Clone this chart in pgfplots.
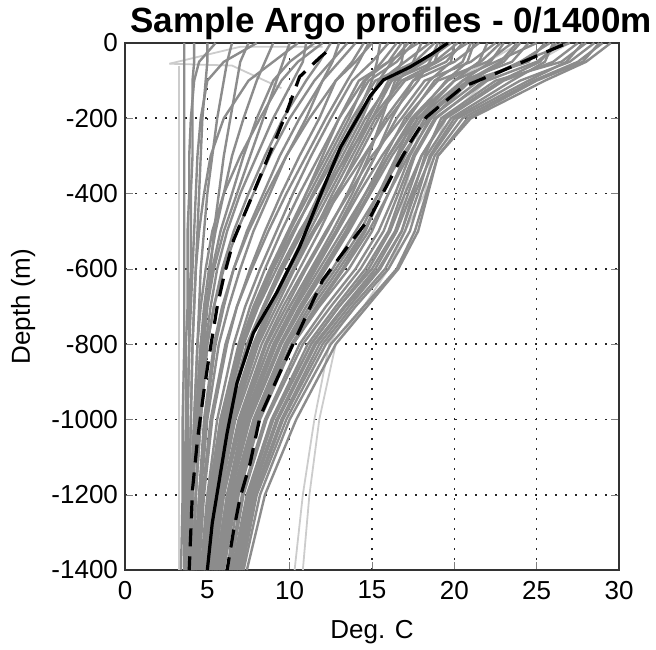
\documentclass[border=0pt]{standalone}
\usepackage{fontspec}
\setmainfont{Liberation Sans}
\usepackage{pgfplots}
\usepackage{pgfplotstable}
\pgfplotsset{compat=1.18}

\definecolor{profgray}{gray}{0.55}
\definecolor{lightprof}{gray}{0.8}

% one row per float profile, temperature (deg C) at each depth (m)
\pgfplotstableread{
name 0 -50 -100 -200 -300 -400 -500 -600 -700 -800 -1000 -1200 -1400
c1 3.6 3.6 3.6 3.6 3.6 3.6 3.6 3.6 3.6 3.6 3.5 3.5 3.4
c2 5.5 4.5 4.2 4.0 3.9 3.9 3.8 3.8 3.8 3.7 3.7 3.6 3.6
c3 8.0 6.0 5.0 4.6 4.4 4.3 4.2 4.1 4.0 3.9 3.8 3.7 3.7
c4 10.5 9.0 7.5 6.0 5.2 4.8 4.5 4.3 4.2 4.1 4.0 3.9 3.8
c5 12.0 10.5 9.5 8.2 7.0 6.0 5.3 4.9 4.6 4.4 4.2 4.0 3.9
c6 6.5 6.2 6.0 5.6 5.3 5.0 4.8 4.6 4.5 4.4 4.2 4.0 3.9
c7 9.0 8.5 8.0 7.2 6.5 6.0 5.5 5.1 4.8 4.6 4.3 4.1 4.0
c8 11.0 10.8 10.2 9.0 8.0 7.0 6.2 5.6 5.2 4.9 4.5 4.3 4.1
c9 4.2 4.2 4.1 4.1 4.1 4.0 4.0 4.0 3.9 3.9 3.8 3.8 3.7
c10 13.5 12.5 11.5 10.0 8.8 7.8 6.8 6.0 5.4 5.0 4.6 4.3 4.1
c11 7.5 7.0 6.8 6.4 6.0 5.7 5.4 5.2 5.0 4.8 4.5 4.3 4.2
c12 14.5 13.8 12.8 11.2 9.8 8.6 7.5 6.6 5.9 5.4 4.8 4.5 4.3
c13 10.0 9.6 9.2 8.4 7.6 6.8 6.0 5.4 5.0 4.7 4.4 4.1 4.0
c14 5.0 5.0 4.9 4.7 4.6 4.5 4.4 4.3 4.2 4.1 4.0 3.9 3.8
m1 16.0 15.0 13.8 12.5 11.3 10.2 9.2 8.2 7.3 6.6 5.6 5.0 4.6
m2 17.5 16.5 14.8 13.4 12.2 11.0 9.9 8.8 7.8 7.0 5.9 5.2 4.8
m3 18.5 17.0 15.5 14.2 13.0 11.8 10.7 9.5 8.4 7.4 6.1 5.4 4.9
m4 19.5 18.0 16.0 14.8 13.6 12.4 11.2 10.0 8.9 7.9 6.4 5.6 5.1
m5 20.5 19.5 17.0 15.2 14.0 12.9 11.8 10.6 9.4 8.3 6.7 5.8 5.2
m6 21.5 20.0 17.5 15.8 14.6 13.5 12.3 11.0 9.8 8.6 7.0 6.0 5.4
m7 19.0 18.5 17.8 16.0 14.5 13.0 11.5 10.2 9.0 8.0 6.5 5.6 5.0
m8 17.0 16.8 16.2 15.0 13.5 12.0 10.6 9.4 8.4 7.5 6.2 5.4 4.9
m9 22.5 21.0 18.2 16.5 15.2 14.0 12.8 11.5 10.2 9.0 7.2 6.2 5.5
m10 15.5 15.3 15.0 14.0 12.8 11.5 10.2 9.0 8.0 7.2 6.0 5.3 4.8
m11 20.0 19.8 18.5 16.8 15.0 13.6 12.2 10.9 9.6 8.5 6.9 5.9 5.3
m12 18.0 17.5 16.6 15.4 14.2 12.8 11.4 10.0 8.8 7.8 6.3 5.5 5.0
m13 23.5 22.0 19.0 17.0 15.8 14.6 13.4 12.0 10.6 9.4 7.5 6.4 5.7
m14 16.8 16.0 14.5 13.0 11.8 10.6 9.5 8.5 7.6 6.9 5.8 5.1 4.7
m15 21.0 20.5 18.8 17.2 15.6 14.2 12.9 11.6 10.3 9.1 7.3 6.2 5.5
m16 19.8 18.2 16.4 15.6 14.8 13.8 12.6 11.3 10.0 8.8 7.0 6.0 5.3
m17 22.0 21.5 20.0 17.8 16.2 14.9 13.6 12.2 10.8 9.5 7.6 6.4 5.7
m18 17.8 16.0 14.2 13.0 12.0 11.0 10.0 9.0 8.0 7.1 5.9 5.2 4.8
m19 23.0 22.2 20.5 18.4 16.8 15.4 14.0 12.6 11.0 9.7 7.8 6.5 5.8
m20 14.8 14.2 13.5 12.2 11.0 9.8 8.7 7.7 6.8 6.1 5.2 4.7 4.4
w1 29.5 28.0 25.5 21.0 19.0 18.3 17.6 16.5 14.5 12.5 10.0 8.2 7.2
w2 28.5 27.0 24.0 20.0 18.5 17.8 17.0 15.8 13.8 12.0 9.6 7.9 7.0
w3 27.5 26.0 23.0 19.5 18.0 17.2 16.4 15.0 13.0 11.3 9.0 7.5 6.7
w4 26.5 25.0 22.0 18.8 17.5 16.6 15.7 14.3 12.5 10.8 8.6 7.2 6.4
w5 25.5 24.5 21.0 18.2 17.0 16.0 15.0 13.6 11.8 10.2 8.2 6.9 6.2
w6 28.0 26.5 22.5 19.2 18.2 17.5 16.8 15.4 13.4 11.6 9.3 7.7 6.8
w7 24.5 23.5 20.5 17.8 16.6 15.6 14.5 13.0 11.4 9.9 8.0 6.7 6.0
w8 29.0 27.5 24.8 20.5 18.8 18.0 17.3 16.0 14.0 12.2 9.8 8.0 7.1
w9 26.0 25.5 23.5 19.8 18.3 17.4 16.5 15.2 13.3 11.5 9.2 7.6 6.8
w10 27.0 24.0 21.5 18.5 17.3 16.4 15.4 14.0 12.2 10.6 8.5 7.1 6.3
w11 25.0 22.5 20.0 17.5 16.5 15.4 14.3 12.8 11.2 9.8 7.9 6.6 5.9
w12 28.8 27.8 25.0 20.8 19.0 18.4 17.8 16.6 14.7 12.8 10.4 8.5 7.4
n1 18.8 17.6 15.2 13.8 12.6 11.4 10.3 9.2 8.1 7.2 6.0 5.3 4.8
n2 20.8 19.0 16.8 15.0 13.8 12.6 11.5 10.3 9.2 8.1 6.6 5.7 5.1
n3 22.8 21.6 19.6 17.4 16.0 14.8 13.5 12.1 10.7 9.4 7.5 6.3 5.6
n4 24.0 23.0 21.0 18.6 17.2 16.0 14.8 13.3 11.7 10.2 8.1 6.8 6.0
n5 25.8 24.0 21.8 18.9 17.6 16.8 16.0 14.6 12.8 11.1 8.9 7.4 6.5
n6 27.8 26.8 24.5 20.2 18.6 17.6 16.8 15.5 13.6 11.8 9.5 7.8 6.9
n7 16.5 15.6 14.6 13.6 12.4 11.2 10.0 8.9 7.9 7.0 5.8 5.1 4.7
n8 15.0 14.0 12.8 11.8 10.6 9.5 8.5 7.6 6.8 6.2 5.3 4.8 4.5
n9 13.0 12.6 12.0 11.0 9.8 8.8 7.8 7.0 6.3 5.7 5.0 4.6 4.3
n10 12.5 11.8 11.0 9.6 8.5 7.5 6.6 5.9 5.4 5.0 4.6 4.3 4.1
n11 21.2 20.8 19.5 17.6 16.0 14.6 13.2 11.8 10.4 9.2 7.4 6.3 5.6
n12 19.2 18.8 17.5 16.2 15.2 14.0 12.8 11.4 10.0 8.8 7.1 6.0 5.4
n13 17.2 16.2 15.4 14.4 13.2 12.0 10.8 9.6 8.5 7.5 6.2 5.4 4.9
n14 23.8 22.8 20.8 18.0 16.6 15.6 14.6 13.2 11.6 10.1 8.0 6.7 5.9
n15 26.2 25.2 22.8 19.4 18.0 17.0 16.1 14.8 13.0 11.3 9.0 7.5 6.6
n16 11.5 10.0 9.0 8.0 7.2 6.5 5.8 5.3 4.9 4.6 4.3 4.1 4.0
n17 14.0 13.0 12.0 10.6 9.4 8.4 7.4 6.6 6.0 5.5 4.9 4.5 4.2
n18 20.2 18.8 16.2 14.6 13.4 12.2 11.0 9.9 8.8 7.8 6.4 5.6 5.0
}\proftab
\pgfplotstabletranspose[colnames from=name]{\profT}{\proftab}

\begin{document}
\begin{tikzpicture}
\useasboundingbox (-62.5pt,-39.5pt) rectangle (265.5pt,285pt);
\begin{axis}[
    at={(0,0)}, anchor=south west,
    scale only axis,
    width=247pt, height=263.5pt,
    xmin=0, xmax=30, ymin=-1400, ymax=0,
    xtick={0,5,...,30},
    ytick={-1400,-1200,...,0},
    /pgf/number format/assume math mode=true,
    /pgf/number format/1000 sep={},
    tick label style={font=\fontsize{13}{15}\selectfont},
    xticklabel style={yshift=-2pt},
    tick align=inside,
    major tick length=4pt,
    axis line style={line width=0.9pt, black!80},
    grid=major,
    major grid style={dash pattern=on 1pt off 4pt, line width=0.8pt, black!85},
    every axis title shift=0pt,
    title={Sample Argo profiles - 0/1400m},
    title style={at={(0.5,1)}, anchor=base, yshift=5pt, xshift=9.5pt, inner sep=0pt,
        font=\bfseries\fontsize{17.5}{20}\selectfont},
    xlabel={Deg. C},
    ylabel={Depth (m)},
    label style={font=\fontsize{13}{15}\selectfont},
    xlabel style={at={(axis description cs:0.5,-0.118)}, anchor=center},
    ylabel style={at={(axis description cs:-0.206,0.5)}, anchor=center},
    clip=true,
]
% light outlying profiles
\addplot[lightprof, line width=0.9pt] coordinates {
    (27,0) (25,-50) (22,-100) (19.5,-200) (18.6,-300) (18.2,-400) (17.0,-500)
    (16.0,-600) (14.5,-700) (12.8,-800) (11.8,-1000) (11.2,-1200) (10.8,-1400)
};
\addplot[lightprof, line width=0.9pt] coordinates {
    (24,0) (22,-50) (20,-100) (18,-200) (17.5,-300) (17,-400) (16.5,-500)
    (15.2,-600) (13.8,-700) (12.4,-800) (11.5,-1000) (10.8,-1200) (10.3,-1400)
};
\addplot[lightprof, line width=0.9pt] coordinates {
    (3.3,-60) (3.3,-1400)
};
\addplot[lightprof, line width=0.9pt] coordinates {
    (2.7,-55) (7,-10) (12,-10)
};
\addplot[lightprof, line width=0.9pt] coordinates {
    (2.7,-55) (6.5,-60) (9.5,-120)
};
% gray ensemble
\pgfplotsinvokeforeach{1,...,64}{
    \addplot[profgray, line width=1.2pt] table[x index=#1, y index=0] {\profT};
}
% mean and +/- one standard deviation
\addplot[black, line width=1.6pt, dash pattern=on 9pt off 5pt] coordinates {
    (12.2,-25) (11.8,-40) (10.6,-90) (9.8,-186) (8.8,-292) (7.8,-398) (6.6,-523)
    (6.0,-621) (5.6,-700) (5.2,-807) (4.8,-922) (4.4,-1054) (4.1,-1187) (3.9,-1400)
};
\addplot[black, line width=1.6pt, dash pattern=on 9pt off 5pt] coordinates {
    (26.6,-5) (25.4,-27) (23.0,-72) (20.5,-117) (18.3,-197) (17.3,-266) (16.5,-329)
    (14.9,-462) (13.5,-542) (12.0,-630) (10.8,-744) (9.4,-876) (8.2,-993)
    (7.6,-1116) (7.0,-1206) (6.6,-1294) (6.2,-1400)
};
\addplot[black, line width=1.6pt] coordinates {
    (19.6,0) (18.6,-30) (17.3,-64) (15.7,-98) (14.9,-140) (14.3,-186) (13.1,-276)
    (12.0,-390) (10.6,-542) (9.2,-664) (7.8,-770) (6.8,-903) (6.2,-1036)
    (5.8,-1142) (5.3,-1275) (5.0,-1400)
};
\end{axis}
\end{tikzpicture}
\end{document}
